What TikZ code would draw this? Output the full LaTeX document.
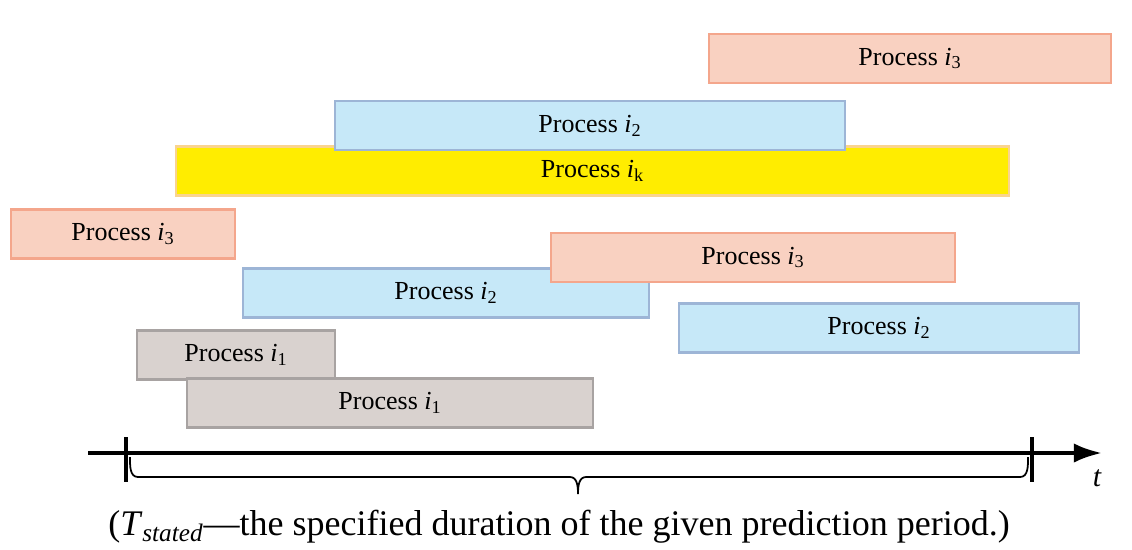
\documentclass[tikz,border=0pt]{standalone}
\usepackage{fontspec}
\setmainfont{Liberation Serif}
\usetikzlibrary{arrows.meta}

\definecolor{salmonfill}{HTML}{F9D1C1}
\definecolor{salmonline}{HTML}{F4A68C}
\definecolor{bluefill}{HTML}{C6E8F8}
\definecolor{blueline}{HTML}{9DB5D6}
\definecolor{yellowfill}{HTML}{FFED00}
\definecolor{yellowline}{HTML}{FAD48E}
\definecolor{grayfill}{HTML}{D9D2CF}
\definecolor{grayline}{HTML}{A8A3A2}

\tikzset{
  procbox/.style={rectangle, line width=1.3pt, inner sep=0pt, minimum height=0.98cm,
    font=\fontsize{14.8}{17}\selectfont},
  procthree/.style={procbox, fill=salmonfill, draw=salmonline},
  proctwo/.style={procbox, fill=bluefill, draw=blueline},
  procone/.style={procbox, fill=grayfill, draw=grayline},
  prock/.style={procbox, fill=yellowfill, draw=yellowline},
}
\newcommand{\proc}[1]{Process \textit{i}$_{\mathrm{#1}}$}

\begin{document}
\begin{tikzpicture}[x=0.02cm, y=-0.02cm]
\useasboundingbox (0,0) rectangle (1132,549);

\node[procthree, minimum width=402*0.02cm] (pthreeA) at (910,58.5) {\proc{3}};
\node[prock, minimum width=833*0.02cm] (pk) at (592.5,171) {\proc{k}};
\node[proctwo, minimum width=510*0.02cm] (ptwoA) at (590,125.5) {\proc{2}};
\node[procthree, minimum width=224*0.02cm] (pthreeB) at (123,234) {\proc{3}};
\node[proctwo, minimum width=406*0.02cm] (ptwoB) at (446,293) {\proc{2}};
\node[procthree, minimum width=404*0.02cm] (pthreeC) at (753,257.5) {\proc{3}};
\node[proctwo, minimum width=400*0.02cm] (ptwoC) at (879,328) {\proc{2}};
\node[procone, minimum width=198*0.02cm] (poneA) at (236,355) {\proc{1}};
\node[procone, minimum width=406*0.02cm] (poneB) at (390,403) {\proc{1}};

% time axis
\coordinate (axL) at (88,453);
\coordinate (axR) at (1102,453);
\draw[line width=2.2pt, -{Latex[length=16pt,width=11pt]}] (axL) -- (axR);
\coordinate (tickA) at (126,437);
\coordinate (tickB) at (1032,437);
\draw[line width=2.2pt] (tickA) -- ++(0,45);
\draw[line width=2.2pt] (tickB) -- ++(0,45);
\node[font=\fontsize{17}{20}\selectfont\itshape] (tlabel) at (1097,478) {t};

% brace under the axis
\draw[line width=1pt] (130,457) to[out=270,in=180] (138,477) -- (570,477)
  to[out=0,in=90] (578,494) to[out=90,in=180] (586,477) -- (1020,477)
  to[out=0,in=270] (1028,457);

\node[font=\fontsize{20.5}{23}\selectfont] (caption) at (559,527)
  {(\textit{T}\textsubscript{\textit{stated}}---the specified duration of the given prediction period.)};
\end{tikzpicture}
\end{document}
